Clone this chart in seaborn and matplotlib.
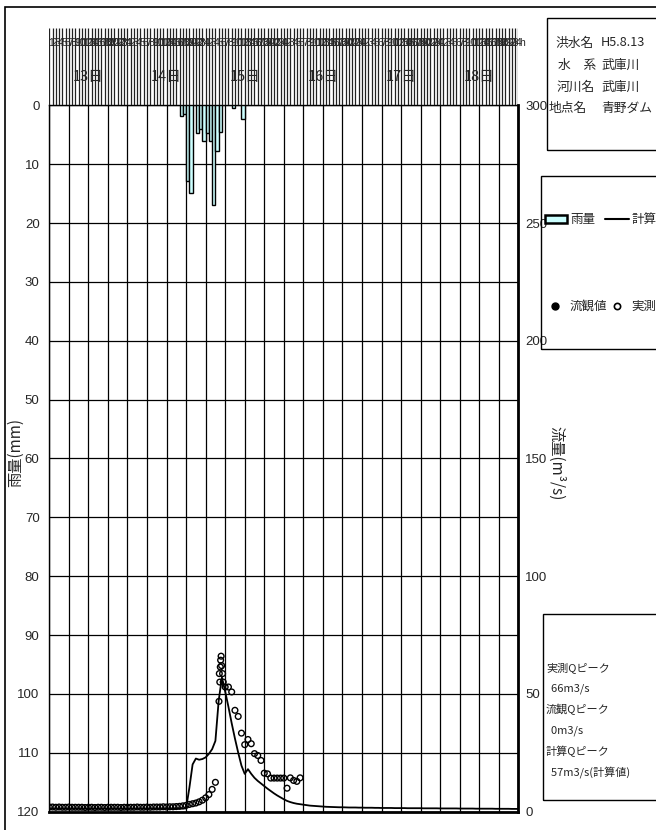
import numpy as np
import matplotlib
matplotlib.use("Agg")
import matplotlib.pyplot as plt
import seaborn as sns
from matplotlib import font_manager as fm
from matplotlib.patches import Rectangle
from matplotlib.lines import Line2D

# ---- data (hours counted from 13日 0:00) ----
rain_hours = [40, 41, 42, 43, 45, 46, 47, 48, 49, 50, 51, 52, 56, 59]
rain_mm = [1.7, 1.5, 12.8, 14.8, 4.7, 4.0, 6.1, 4.7, 6.0, 16.9, 7.7, 4.5, 0.5, 2.3]

calc_q = [
    1.3, 1.3, 1.3, 1.3, 1.3, 1.3, 1.3, 1.3, 1.3, 1.3,
    1.3, 1.3, 1.3, 1.3, 1.3, 1.3, 1.3, 1.3, 1.3, 1.3,
    1.3, 1.3, 1.3, 1.3, 1.3, 1.3, 1.3, 1.3, 1.3, 1.3,
    1.3, 1.3, 1.3, 1.3, 1.3, 1.3, 1.3, 1.3, 1.3, 1.3,
    1.3, 1.3, 1.3, 10.0, 20.0, 22.5, 22.0, 22.3, 23.0, 24.5,
    26.5, 30.0, 47.0, 57.0, 51.0, 44.5, 37.5, 31.0, 25.0, 19.5,
    16.0, 18.0, 16.0, 14.3, 13.0, 11.9, 10.8, 9.7, 8.7, 7.7,
    6.8, 6.0, 5.2, 4.5, 4.0, 3.6, 3.3, 3.1, 2.9, 2.7,
    2.5, 2.4, 2.3, 2.2, 2.1, 2.0, 1.95, 1.9, 1.85, 1.8,
    1.8, 1.75, 1.7, 1.7, 1.7, 1.65, 1.65, 1.6, 1.6, 1.6,
    1.55, 1.55, 1.5, 1.5, 1.5, 1.5, 1.45, 1.45, 1.45, 1.45,
    1.4, 1.4, 1.4, 1.4, 1.4, 1.35, 1.35, 1.35, 1.35, 1.35,
    1.3, 1.3, 1.3, 1.3, 1.3, 1.3, 1.25, 1.25, 1.25, 1.25,
    1.25, 1.2, 1.2, 1.2, 1.2, 1.2, 1.2, 1.15, 1.15, 1.15,
    1.15, 1.15, 1.1, 1.1, 1.1,
]
calc_hours = list(range(len(calc_q)))

obs_hours = (list(range(0, 52))
             + [52.1, 52.2, 52.35, 52.5, 52.6, 52.75, 52.9, 53.2, 53.4]
             + list(range(54, 78)))
obs_q = [
    1.9, 1.9, 1.8, 1.9, 1.8, 1.8, 1.9, 1.8, 1.8, 1.8,
    1.8, 1.7, 1.8, 1.8, 1.7, 1.8, 1.8, 1.7, 1.8, 1.8,
    1.8, 1.8, 1.7, 1.8, 1.8, 1.8, 1.8, 1.9, 1.8, 1.8,
    1.9, 1.8, 1.9, 1.9, 1.9, 2.0, 1.9, 2.0,
    2.0, 2.1, 2.2, 2.4, 2.6, 3.0, 3.3, 3.6, 4.1, 4.8, 5.8, 7.2, 9.4, 12.4,
    46.8, 58.6, 55.0, 61.4, 64.3, 66.0, 62.0, 58.6, 55.0,
    52.9, 52.9, 50.8, 43.0, 40.4, 33.3, 28.4, 30.6, 28.8, 24.6,
    23.8, 21.7, 16.3, 16.0, 14.2, 14.2, 14.2, 14.2, 14.2, 9.9,
    14.3, 13.2, 12.8, 14.3,
]

day_labels = ["13日", "14日", "15日", "16日", "17日", "18日"]
hour_labels = [str(h) for h in range(1, 25)]
info_rows = [("洪水名", "H5.8.13"), ("水　系", "武庫川"), ("河川名", "武庫川"), ("地点名", "青野ダム")]
peak_lines = ["実測Qピーク", "  66m3/s", "流観Qピーク", "  0m3/s", "計算Qピーク", "  57m3/s(計算値)"]

W, H = 656, 830
RAIN_COLOR = "#ccffff"


def fx(x):
    return x / W


def fy(y):
    return 1 - y / H


sns.set_style("white")

# a narrow face for the numbers if one is installed
names = {f.name for f in fm.fontManager.ttflist}
if "Liberation Sans Narrow" in names:
    num_kw = dict(family="Liberation Sans Narrow")
    tick_size = 11
    plt.rcParams["font.family"] = ["Liberation Sans Narrow", "Noto Sans CJK JP", "DejaVu Sans"]
else:
    num_kw = dict(family="Liberation Sans")
    tick_size = 9.5
    plt.rcParams["font.family"] = ["Noto Sans CJK JP", "DejaVu Sans"]

fig = plt.figure(figsize=(W / 100, H / 100), dpi=100)

x0, x1 = 49.3, 518.3
y_top, y_bot = 105.5, 811.5
ax = fig.add_axes([fx(x0), fy(y_bot), fx(x1) - fx(x0), (y_bot - y_top) / H])

# rain bars hanging from the top
sns.barplot(x=[h + 0.5 for h in rain_hours], y=rain_mm, ax=ax, native_scale=True,
            orient="x", width=1, color=RAIN_COLOR, saturation=1,
            edgecolor="black", linewidth=1.0, errorbar=None, zorder=3)
ax.set_xlim(0, 144)
ax.set_ylim(120, 0)
ax.set_xticks(range(0, 145, 6))
ax.set_xticklabels([])
ax.set_yticks(range(0, 121, 10))
ax.set_yticklabels([str(v) for v in range(0, 121, 10)], fontsize=tick_size, **num_kw)
ax.tick_params(axis="both", length=0)
ax.tick_params(axis="y", pad=7)
ax.grid(True, color="black", linewidth=0.9)
ax.set_axisbelow(True)
ax.set_xlabel("")
ax.set_ylabel("")
for s in ["left", "top"]:
    ax.spines[s].set_linewidth(1.0)
    ax.spines[s].set_color("black")
ax.spines["bottom"].set_linewidth(2.0)
ax.spines["bottom"].set_color("black")

# flow on the right axis
ax2 = ax.twinx()
sns.lineplot(x=calc_hours, y=calc_q, ax=ax2, color="black", linewidth=1.3)
sns.scatterplot(x=obs_hours, y=obs_q, ax=ax2, s=17, facecolor="none",
                edgecolor="black", linewidth=1.0, zorder=4)
ax2.set_ylim(0, 300)
ax2.set_xlim(0, 144)
ax2.set_yticks(range(0, 301, 50))
ax2.set_yticklabels([str(v) for v in range(0, 301, 50)], fontsize=tick_size, **num_kw)
ax2.tick_params(axis="y", length=0, pad=5)
ax2.set_ylabel("")
ax2.spines["right"].set_linewidth(2.0)
ax2.spines["right"].set_color("black")
for s in ["left", "top", "bottom"]:
    ax2.spines[s].set_visible(False)

# top band with hour ticks and day labels
band_top = 28
axt = fig.add_axes([fx(x0), fy(y_top), fx(x1) - fx(x0), (y_top - band_top) / H])
axt.set_xlim(0, 144)
axt.set_ylim(0, 1)
axt.axis("off")
axt.vlines(range(0, 145), 0, 1, color="#222222", linewidth=0.9)
for h in range(0, 144):
    axt.text(h + 0.5, 0.80, hour_labels[h % 24], ha="center", va="center",
             fontsize=7.5, clip_on=False, **num_kw)
axt.text(144.4, 0.80, "h", ha="left", va="center", fontsize=7.5, clip_on=False, **num_kw)
for i, lab in enumerate(day_labels):
    axt.text(24 * i + 12, 0.37, lab, ha="center", va="center", fontsize=10.5)

# axis titles
fig.text(fx(15), fy(452), "雨量(mm)", rotation=90, ha="center", va="center", fontsize=11)
fig.text(fx(556), fy(463), "流量(m³/s)", rotation=270, ha="center", va="center", fontsize=11)

# outer frame (only left and top edges fall inside the image)
fig.add_artist(Rectangle((fx(5), -0.1), 2, fy(7) + 0.1, transform=fig.transFigure,
                         fill=False, edgecolor="black", linewidth=1.2))

# info box
fig.add_artist(Rectangle((fx(547), fy(150)), 1, (150 - 18) / H, transform=fig.transFigure,
                         fill=False, edgecolor="black", linewidth=1.0))
label_x = [555, 558, 557, 549]
row_y = [43, 65, 87, 108]
for (lab, val), lx, ry in zip(info_rows, label_x, row_y):
    fig.text(fx(lx), fy(ry), lab, ha="left", va="center", fontsize=9.2)
    fig.text(fx(601), fy(ry), val, ha="left", va="center", fontsize=9.2)

# legend box
fig.add_artist(Rectangle((fx(541), fy(349)), 1, (349 - 176) / H, transform=fig.transFigure,
                         fill=False, edgecolor="black", linewidth=1.0))
fig.add_artist(Rectangle((fx(545), fy(223)), 22 / W, 8 / H, transform=fig.transFigure,
                         facecolor=RAIN_COLOR, edgecolor="black", linewidth=1.8))
fig.text(fx(570), fy(219), "雨量", ha="left", va="center", fontsize=9)
fig.add_artist(Line2D([fx(605), fx(629)], [fy(219), fy(219)], transform=fig.transFigure,
                      color="black", linewidth=1.5))
fig.text(fx(632), fy(219), "計算値", ha="left", va="center", fontsize=9)
fig.add_artist(Line2D([fx(555)], [fy(306)], transform=fig.transFigure, marker="o",
                      markersize=5, color="black", linestyle="none"))
fig.text(fx(570), fy(306), "流観値", ha="left", va="center", fontsize=9)
fig.add_artist(Line2D([fx(617)], [fy(306)], transform=fig.transFigure, marker="o",
                      markersize=4.5, markerfacecolor="white", markeredgecolor="black",
                      markeredgewidth=1.2, linestyle="none"))
fig.text(fx(631), fy(306), "実測値", ha="left", va="center", fontsize=9)

# peak box
fig.add_artist(Rectangle((fx(543), fy(800)), 1, (800 - 614) / H, transform=fig.transFigure,
                         fill=False, edgecolor="black", linewidth=1.0))
for i, line in enumerate(peak_lines):
    fig.text(fx(546), fy(668 + 20.8 * i), line, ha="left", va="center", fontsize=8)

fig.savefig("out.png", dpi=100)
